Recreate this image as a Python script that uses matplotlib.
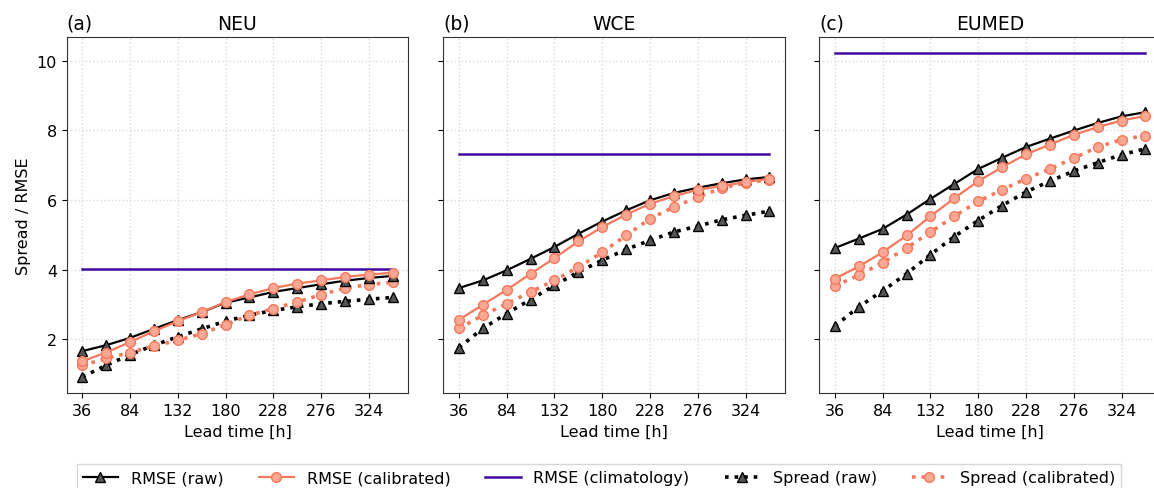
import numpy as np
import matplotlib
matplotlib.use("Agg")
import matplotlib.pyplot as plt

lead = [36, 60, 84, 108, 132, 156, 180, 204, 228, 252, 276, 300, 324, 348]
xticks = [36, 84, 132, 180, 228, 276, 324]

regions = ["NEU", "WCE", "EUMED"]
letters = ["(a)", "(b)", "(c)"]

rmse_raw = {
    "NEU": [1.66, 1.83, 2.04, 2.30, 2.55, 2.78, 3.05, 3.20, 3.36, 3.47, 3.58, 3.68, 3.76, 3.82],
    "WCE": [3.47, 3.69, 3.98, 4.31, 4.65, 5.03, 5.38, 5.70, 5.99, 6.20, 6.35, 6.48, 6.59, 6.66],
    "EUMED": [4.62, 4.89, 5.17, 5.58, 6.03, 6.46, 6.89, 7.21, 7.52, 7.76, 7.99, 8.21, 8.40, 8.52],
}
rmse_cal = {
    "NEU": [1.37, 1.62, 1.92, 2.23, 2.52, 2.78, 3.07, 3.29, 3.47, 3.60, 3.69, 3.79, 3.86, 3.91],
    "WCE": [2.56, 2.99, 3.42, 3.88, 4.33, 4.81, 5.22, 5.58, 5.89, 6.11, 6.29, 6.40, 6.51, 6.61],
    "EUMED": [3.74, 4.09, 4.50, 4.98, 5.53, 6.05, 6.54, 6.94, 7.31, 7.59, 7.87, 8.09, 8.28, 8.41],
}
rmse_clim = {"NEU": 4.02, "WCE": 7.32, "EUMED": 10.22}
spread_raw = {
    "NEU": [0.92, 1.25, 1.56, 1.83, 2.07, 2.30, 2.52, 2.69, 2.83, 2.93, 3.02, 3.09, 3.15, 3.20],
    "WCE": [1.76, 2.31, 2.74, 3.14, 3.55, 3.93, 4.27, 4.58, 4.84, 5.08, 5.25, 5.43, 5.56, 5.68],
    "EUMED": [2.38, 2.93, 3.39, 3.88, 4.43, 4.95, 5.41, 5.84, 6.23, 6.54, 6.83, 7.07, 7.30, 7.47],
}
spread_cal = {
    "NEU": [1.25, 1.45, 1.62, 1.81, 1.97, 2.16, 2.42, 2.69, 2.88, 3.07, 3.28, 3.47, 3.57, 3.64],
    "WCE": [2.31, 2.69, 3.02, 3.36, 3.69, 4.07, 4.50, 4.98, 5.46, 5.80, 6.08, 6.34, 6.49, 6.58],
    "EUMED": [3.53, 3.84, 4.20, 4.62, 5.08, 5.53, 5.96, 6.29, 6.61, 6.89, 7.20, 7.52, 7.73, 7.85],
}

c_cal = "#f6785c"
c_cal_face = "#f9a893"
c_clim = "#3d0b9e"

fig = plt.figure(figsize=(11.54, 4.89), dpi=100)
lefts = [0.0578, 0.3842, 0.710]
axes = []
for i, reg in enumerate(regions):
    if i == 0:
        ax = fig.add_axes([lefts[i], 0.1937, 0.296, 0.728])
    else:
        ax = fig.add_axes([lefts[i], 0.1937, 0.296, 0.728], sharey=axes[0])
    axes.append(ax)

    ax.plot(lead, rmse_raw[reg], color="black", lw=1.6, marker="^", ms=7,
            mfc="#555555", mec="black", label="RMSE (raw)", zorder=4)
    ax.plot(lead, rmse_cal[reg], color=c_cal, lw=1.6, marker="o", ms=7,
            mfc=c_cal_face, mec=c_cal, label="RMSE (calibrated)", zorder=4)
    ax.plot([lead[0], lead[-1]], [rmse_clim[reg]] * 2, color=c_clim, lw=1.8,
            label="RMSE (climatology)", zorder=3)
    ax.plot(lead, spread_raw[reg], color="black", lw=2.6, ls=":", marker="^", ms=7,
            mfc="#555555", mec="black", label="Spread (raw)", zorder=3)
    ax.plot(lead, spread_cal[reg], color=c_cal, lw=2.6, ls=":", marker="o", ms=7,
            mfc=c_cal_face, mec=c_cal, label="Spread (calibrated)", zorder=3)

    ax.set_xticks(xticks)
    ax.set_xlim(20.4, 363.6)
    ax.grid(True, ls=":", color="#d9d9d9", lw=1)
    ax.set_axisbelow(True)
    ax.tick_params(labelsize=11.5)
    ax.set_xlabel("Lead time [h]", fontsize=11.5)
    ax.set_title(reg, fontsize=13.5)
    ax.set_title(letters[i], loc="left", fontsize=13.5)
    if i > 0:
        ax.tick_params(labelleft=False)
    for s in ax.spines.values():
        s.set_color("#333333")

axes[0].set_ylim(0.45, 10.67)
axes[0].set_yticks([2, 4, 6, 8, 10])
axes[0].set_ylabel("Spread / RMSE", fontsize=11.5)

handles, labels = axes[0].get_legend_handles_labels()
fig.legend(handles, labels, loc="upper center", bbox_to_anchor=(0.519, 0.066),
           ncol=5, fontsize=11.5, frameon=True, fancybox=False, edgecolor="#cccccc",
           handlelength=2.2, columnspacing=2.2)

fig.savefig("out.png", dpi=100)
